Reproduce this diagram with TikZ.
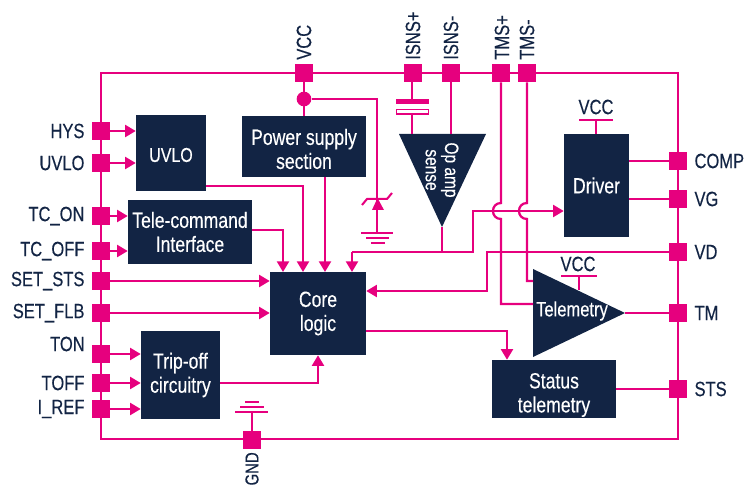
\documentclass[tikz,border=0pt]{standalone}
\usepackage{fontspec}
\setsansfont[FakeStretch=0.8,FakeBold=0.3]{Liberation Sans}
\usetikzlibrary{positioning,arrows.meta}
\definecolor{stpink}{RGB}{230,0,126}
\definecolor{stnavy}{RGB}{18,36,68}

\begin{document}
\begin{tikzpicture}[x=0.75pt, y=-0.75pt, font=\sffamily,
    >={Triangle[length=8pt, width=9pt]}]
  \tikzstyle{blk}=[fill=stnavy, text=white, inner sep=0pt, align=center,
                   font=\sffamily\fontsize{16.5}{18}\selectfont]
  \tikzstyle{pin}=[fill=stpink, minimum size=13.5pt, inner sep=0pt]
  \tikzstyle{lbl}=[text=stnavy, inner sep=0pt,
                   font=\sffamily\fontsize{15.5}{16}\selectfont]
  \tikzstyle{wire}=[draw=stpink, line width=1.7pt]
  \tikzstyle{thin wire}=[draw=stpink, line width=1.5pt]
  \useasboundingbox (0,0) rectangle (744,485);

  % ================= package outline =================
  \coordinate (ftl) at (101,73);
  \coordinate (fbr) at (678,439);
  \draw[wire] (ftl) rectangle (fbr);

  % ================= blocks =================
  \node[blk, minimum width=52.5pt, minimum height=57pt] (uvloblk) at (171,153) {};
  \node[blk, fill=none, font=\sffamily\fontsize{15}{18}\selectfont] (uvlotxt) at (171,155) {UVLO};
  \node[blk, minimum width=93pt, minimum height=48pt] (tele) at (190,232) {Tele-command\\Interface};
  \node[blk, minimum width=93pt, minimum height=45.75pt] (power) at (304,146.5) {};
  \node[blk, fill=none] (powertxt) at (304,149) {Power supply\\section};
  \node[blk, minimum width=72pt, minimum height=62.25pt] (core) at (318,313.5) {Core\\logic};
  \node[blk, minimum width=59.25pt, minimum height=66pt] (trip) at (180.5,375) {Trip-off\\circuitry};
  \node[blk, minimum width=48.75pt, minimum height=77.25pt] (driver) at (596.5,185.5) {Driver};
  \node[blk, minimum width=93pt, minimum height=43.5pt] (status) at (554,389) {};
  \node[blk, fill=none] (statustxt) at (554,395) {Status\\telemetry};

  % triangles are plain paths, their corners are named
  \coordinate (opl) at (399,134);
  \coordinate (opr) at (486,134);
  \coordinate (opout) at (442,227);
  \fill[stnavy] (opl) -- (opr) -- (opout) -- cycle;
  \node[blk, fill=none, rotate=-90, font=\sffamily\fontsize{14.5}{14.5}\selectfont] (opamp) at (442,170) {Op amp\\sense};
  \coordinate (tmt) at (533,269);
  \coordinate (tmb) at (533,357);
  \coordinate (tmout) at (625,313);
  \fill[stnavy] (tmt) -- (tmb) -- (tmout) -- cycle;
  \node[blk, fill=none, font=\sffamily\fontsize{15.5}{14}\selectfont] (telem) at (572,311) {Telemetry};

  % ================= pins =================
  \node[pin] (hys) at (101,131) {};
  \node[pin] (uvlo) at (101,163) {};
  \node[pin] (tcon) at (101,216) {};
  \node[pin] (tcoff) at (101,251) {};
  \node[pin] (setsts) at (101,281) {};
  \node[pin] (setflb) at (101,313) {};
  \node[pin] (ton) at (101,354) {};
  \node[pin] (toff) at (101,383) {};
  \node[pin] (iref) at (101,409) {};
  \node[pin] (vcc) at (304,73) {};
  \node[pin] (isnsp) at (413,73) {};
  \node[pin] (isnsm) at (451,73) {};
  \node[pin] (tmsp) at (501,73) {};
  \node[pin] (tmsm) at (527,73) {};
  \node[pin] (comp) at (678,161) {};
  \node[pin] (vg) at (678,199) {};
  \node[pin] (vd) at (678,252) {};
  \node[pin] (tm) at (678,313) {};
  \node[pin] (sts) at (678,389) {};
  \node[pin] (gnd) at (252,440) {};

  % ================= pin labels =================
  \node[lbl, left=5.25pt of hys] (hysl) {HYS};
  \node[lbl, left=5.25pt of uvlo] (uvlol) {UVLO};
  \node[lbl, left=5.25pt of tcon] (tconl) {TC\_ON};
  \node[lbl, left=5.25pt of tcoff] (tcoffl) {TC\_OFF};
  \node[lbl, left=5.25pt of setsts] (setstsl) {SET\_STS};
  \node[lbl, left=5.25pt of setflb] (setflbl) {SET\_FLB};
  \node[lbl, anchor=east] (tonl) at (85,344) {TON};
  \node[lbl, left=5.25pt of toff] (toffl) {TOFF};
  \node[lbl, left=5.25pt of iref] (irefl) {I\_REF};
  \node[lbl, right=5.25pt of comp] (compl) {COMP};
  \node[lbl, right=5.25pt of vg] (vgl) {VG};
  \node[lbl, right=5.25pt of vd] (vdl) {VD};
  \node[lbl, right=5.25pt of tm] (tml) {TM};
  \node[lbl, right=5.25pt of sts] (stsl) {STS};
  \node[lbl, rotate=90, anchor=west] (vccl) at (304,60) {VCC};
  \node[lbl, rotate=90, anchor=west] (isnspl) at (413,60) {ISNS+};
  \node[lbl, rotate=90, anchor=west] (isnsml) at (451,60) {ISNS-};
  \node[lbl, rotate=90, anchor=west] (tmspl) at (502,60) {TMS+};
  \node[lbl, rotate=90, anchor=west] (tmsml) at (527,60) {TMS-};
  \node[lbl, rotate=90, anchor=east, font=\sffamily\fontsize{14}{16}\selectfont] (gndl) at (252,452) {GND};

  % ================= pins into blocks =================
  \draw[wire, ->] (hys) -- (uvloblk.west |- hys);
  \draw[wire, ->] (uvlo) -- (uvloblk.west |- uvlo);
  \draw[wire, ->] (tcon) -- (tele.west |- tcon);
  \draw[wire, ->] (tcoff) -- (tele.west |- tcoff);
  \draw[wire, ->] (setsts) -- (core.west |- setsts);
  \draw[wire, ->] (setflb) -- (core.west |- setflb);
  \draw[wire, ->] (ton) -- (trip.west |- ton);
  \draw[wire, ->] (toff) -- (trip.west |- toff);
  \draw[wire, ->] (iref) -- (trip.west |- iref);

  % ================= blocks into core logic =================
  \coordinate (uvloout) at (206,186);
  \draw[wire, ->] (uvloout) -| (303,272);
  \coordinate (teleout) at (252,230);
  \draw[wire, ->] (teleout) -| (283,272);
  \draw[wire, ->] (325,177) -- (325,272);
  \draw[wire, ->] (trip.east |- toff) -| (core.south);
  \draw[wire, ->] (vd) -| (487,291) -- (core.east |- 0,291);
  \draw[wire, ->] (core.east |- 0,331) -| (status.north -| 507,0);

  % ================= VCC, zener =================
  \node[circle, fill=stpink, minimum size=11pt, inner sep=0pt] (vccdot) at (304,99) {};
  \draw[wire] (vcc) -- (power.north);
  \draw[wire] (vccdot) -| (377,233);
  \coordinate (gndzen) at (377,233);
  \fill[stpink] (372,210) -- (384,210) -- (377.5,198) -- cycle;
  \draw[thin wire] (362,205) -- (367,199) -- (387,199) -- (392,193);
  \draw[thin wire] ([xshift=-12pt]gndzen) -- ([xshift=12pt]gndzen)
                   (366,238) -- (389,238) (371,243) -- (385,243);

  % ================= ISNS =================
  \coordinate (capt) at (412,99);
  \coordinate (capb) at (412,114);
  \draw[wire] (isnsp.south -| capt) -- (capt);
  \fill[stpink] (396,99) rectangle (429,104);
  \draw[draw=stpink, line width=1.2pt, fill=white] (396.5,109.5) rectangle (428.5,114);
  \draw[wire] (capb) -- (capb |- opl);
  \draw[wire] (isnsm) -- (isnsm |- opl);

  % ================= op amp out, hops over TMS lines =================
  \draw[wire] (opout) -- (opout |- 0,252);
  \draw[wire, ->] (352,252) -- (352,272);
  \draw[wire, ->] (352,252) -- (473,252) -- (473,211) -- (driver.west |- 0,211);
  \draw[wire] (tmsp) -- (501,203) .. controls +(-10.7,0) and +(-10.7,0) .. (501,219)
              -- (501,304) -- (tmt |- 0,304);
  \draw[wire] (tmsm) -- (527,203) .. controls +(-10.7,0) and +(-10.7,0) .. (527,219)
              -- (527,281) -- (tmt |- 0,281);

  % ================= outputs =================
  \draw[wire] (driver.east |- comp) -- (comp);
  \draw[wire] (driver.east |- vg) -- (vg);
  \draw[wire] (tmout) -- (tm);
  \draw[wire] (status.east |- sts) -- (sts);

  % ================= supply tees =================
  \node[lbl] (vccdrv) at (596,107) {VCC};
  \draw[thin wire] (579,120) -- (613,120) (596,120) -- (driver.north -| 596,0);
  \node[lbl] (vcctm) at (578,264) {VCC};
  \draw[thin wire] (561,276) -- (597,276) (579,276) -- (579,290);

  \draw[wire] (gnd) -- (252,412);
  \draw[thin wire] (235,412) -- (268,412) (240,407) -- (264,407) (245,402) -- (259,402);
\end{tikzpicture}
\end{document}
